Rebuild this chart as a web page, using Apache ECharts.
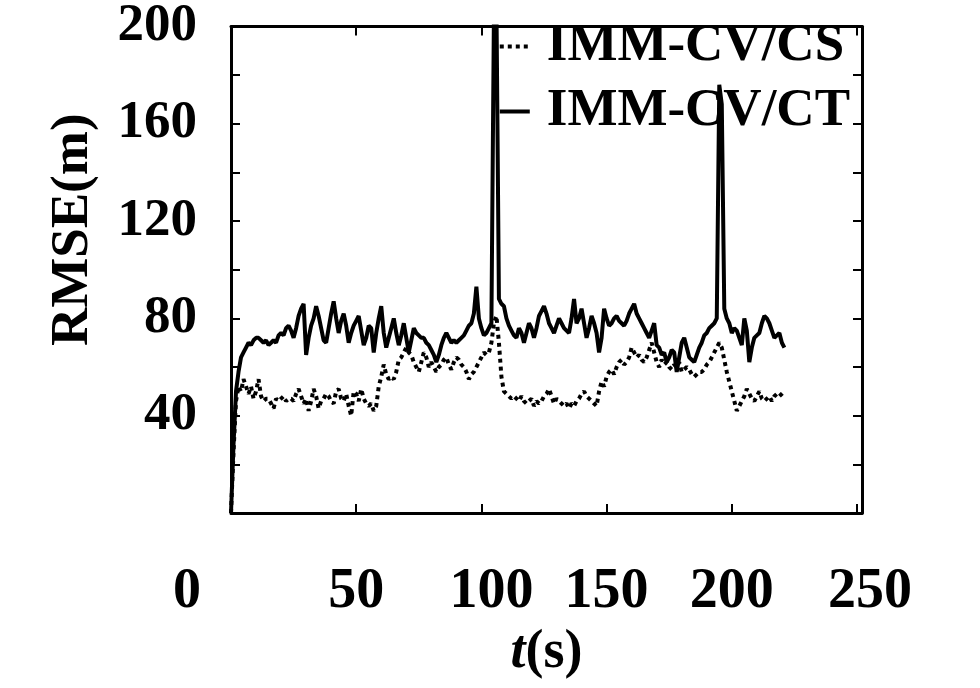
<!DOCTYPE html>
<html lang="en">
<head>
<meta charset="UTF-8">
<title>RMSE</title>
<script src="https://cdn.jsdelivr.net/npm/echarts@6/dist/echarts.min.js"></script>
<style>
    html, body { margin: 0; padding: 0; background: #fff; }
    #chart { width: 980px; height: 688px; }
</style>
</head>
<body>
<div id="chart"></div>
<script>
// RMSE every second, t = 0 .. 221 s
var rmseCS = [
    0, 25, 46, 52, 50, 55, 52, 49, 52, 47, 50, 55, 48, 46, 47, 47, 45, 43, 47, 46,
    47, 48, 46, 47, 47, 46, 49, 51, 48, 45, 47, 42, 46, 51, 48, 43, 46, 47, 49, 48,
    46, 45, 50, 51, 47, 46, 49, 44, 40, 50, 49, 46, 51, 47, 45, 44, 45, 42, 44, 52,
    56, 61, 57, 55, 56, 55, 58, 63, 64, 66, 68, 66, 65, 62, 60, 58, 62, 66, 64, 60,
    62, 60, 58, 60, 61, 63, 64, 61, 59, 62, 64, 63, 61, 60, 58, 55, 57, 58, 60, 62,
    64, 66, 65, 66, 70, 78, 81, 70, 56, 50, 49, 48, 47, 48, 47, 46, 48, 46, 45, 46,
    47, 44, 46, 45, 46, 48, 49, 51, 48, 45, 47, 46, 45, 44, 45, 43, 45, 44, 46, 47,
    49, 50, 48, 47, 46, 45, 44, 50, 54, 52, 56, 58, 59, 57, 60, 62, 63, 61, 62, 64,
    68, 66, 64, 65, 63, 62, 64, 67, 70, 66, 62, 60, 63, 61, 62, 60, 59, 61, 60, 62,
    58, 59, 60, 59, 57, 56, 57, 58, 58, 59, 61, 62, 64, 66, 68, 70, 68, 63, 58, 54,
    50, 46, 42, 44, 46, 48, 51, 49, 47, 46, 48, 50, 47, 46, 47, 48, 46, 48, 49, 48,
    49, 50
];
var rmseCT = [
    0, 28, 50, 58, 64, 66, 68, 70, 69, 71, 72, 72, 71, 70, 71, 69, 70, 71, 70, 73,
    74, 73, 76, 77, 75, 72, 76, 81, 84, 86, 65, 72, 77, 80, 85, 81, 76, 71, 70, 76,
    82, 87, 80, 74, 79, 82, 77, 70, 74, 77, 79, 81, 75, 69, 72, 77, 76, 66, 74, 80,
    85, 74, 68, 72, 76, 80, 74, 69, 73, 78, 72, 66, 71, 76, 74, 73, 72, 72, 70, 69,
    67, 65, 62, 65, 69, 72, 74, 72, 70, 71, 70, 71, 72, 73, 75, 77, 78, 82, 93, 80,
    76, 73, 74, 76, 78, 205, 210, 88, 86, 85, 80, 77, 75, 73, 72, 76, 74, 70, 74, 78,
    76, 72, 76, 81, 83, 85, 82, 78, 76, 74, 77, 80, 78, 76, 75, 74, 80, 88, 78, 80,
    84, 78, 72, 76, 81, 78, 74, 66, 72, 84, 80, 77, 78, 80, 81, 79, 78, 77, 79, 82,
    84, 86, 82, 80, 78, 76, 74, 72, 75, 78, 69, 68, 65, 66, 62, 64, 67, 66, 58, 64,
    70, 72, 68, 64, 63, 62, 65, 68, 70, 73, 74, 76, 77, 78, 80, 176, 168, 84, 80, 78,
    74, 76, 75, 72, 69, 80, 75, 62, 68, 72, 73, 74, 78, 81, 80, 78, 75, 72, 73, 74,
    70, 68
];
var xTicks = [0, 50, 100, 150, 200, 250];
var yTicks = [40, 80, 120, 160, 200];

var serif = '"Liberation Serif", "Times New Roman", serif';
var txt = { fontFamily: serif, fontWeight: 'bold', color: '#000' };

function pairs(arr) {
    return arr.map(function (v, i) { return [i, v]; });
}
function font(size, extra) {
    return Object.assign({ fontSize: size }, txt, extra || {});
}

var chart = echarts.init(document.getElementById('chart'));

var axisLine = { show: true, onZero: false, lineStyle: { color: '#000', width: 3 } };
var inTick = { show: true, inside: true, length: 9, lineStyle: { color: '#000', width: 2 } };

var option = {
    animation: false,
    backgroundColor: '#fff',
    grid: { left: 231, right: 118, top: 21, bottom: 175 },
    legend: {
        data: ['IMM-CV/CS', 'IMM-CV/CT'],
        orient: 'vertical',
        right: 130,
        top: 20,
        padding: 0,
        itemGap: 12,
        itemWidth: 30,
        itemHeight: 6,
        itemStyle: { color: 'transparent', borderWidth: 0 },
        lineStyle: { width: 4 },
        textStyle: font(53, { lineHeight: 53, padding: [0, 0, 0, 12] })
    },
    xAxis: [{
        type: 'value', min: 0, max: 252, interval: 50, position: 'bottom',
        axisLine: axisLine, axisTick: inTick, splitLine: { show: false },
        axisLabel: Object.assign(font(56), {
            margin: 52,
            formatter: function (v) {
                if (xTicks.indexOf(v) < 0) return '';
                if (v === 0) return '{z|0}';
                if (v === 100) return '{r|100}';
                if (v === 250) return '{r2|250}';
                return v;
            },
            rich: {
                z: font(56, { padding: [0, 88, 0, 0] }),
                r: font(56, { padding: [0, 0, 0, 20] }),
                r2: font(56, { padding: [0, 0, 0, 26] })
            }
        }),
        name: '{i|t}(s)', nameLocation: 'middle', nameGap: 112,
        nameTextStyle: Object.assign(font(54), {
            rich: { i: font(54, { fontStyle: 'italic' }) }
        })
    }, {
        type: 'value', min: 0, max: 252, interval: 50, position: 'top',
        axisLine: axisLine, axisTick: inTick, axisLabel: { show: false }, splitLine: { show: false }
    }],
    yAxis: [{
        type: 'value', min: 0, max: 200, interval: 20, position: 'left',
        axisLine: axisLine, axisTick: inTick, splitLine: { show: false },
        axisLabel: Object.assign(font(53), {
            margin: 34,
            formatter: function (v) { return yTicks.indexOf(v) >= 0 ? v : ''; }
        }),
        name: 'RMSE(m)', nameLocation: 'middle', nameGap: 131,
        nameTextStyle: font(53, { padding: [0, 0, 0, 80] })
    }, {
        type: 'value', min: 0, max: 200, interval: 20, position: 'right',
        axisLine: axisLine, axisTick: inTick, axisLabel: { show: false }, splitLine: { show: false }
    }],
    series: [{
        name: 'IMM-CV/CS',
        type: 'line',
        data: pairs(rmseCS),
        symbol: 'none',
        itemStyle: { color: '#000' },
        lineStyle: { color: '#000', width: 4, type: [4, 4] }
    }, {
        name: 'IMM-CV/CT',
        type: 'line',
        data: pairs(rmseCT),
        symbol: 'none',
        itemStyle: { color: '#000' },
        lineStyle: { color: '#000', width: 4 }
    }]
};

chart.setOption(option);
</script>
</body>
</html>
